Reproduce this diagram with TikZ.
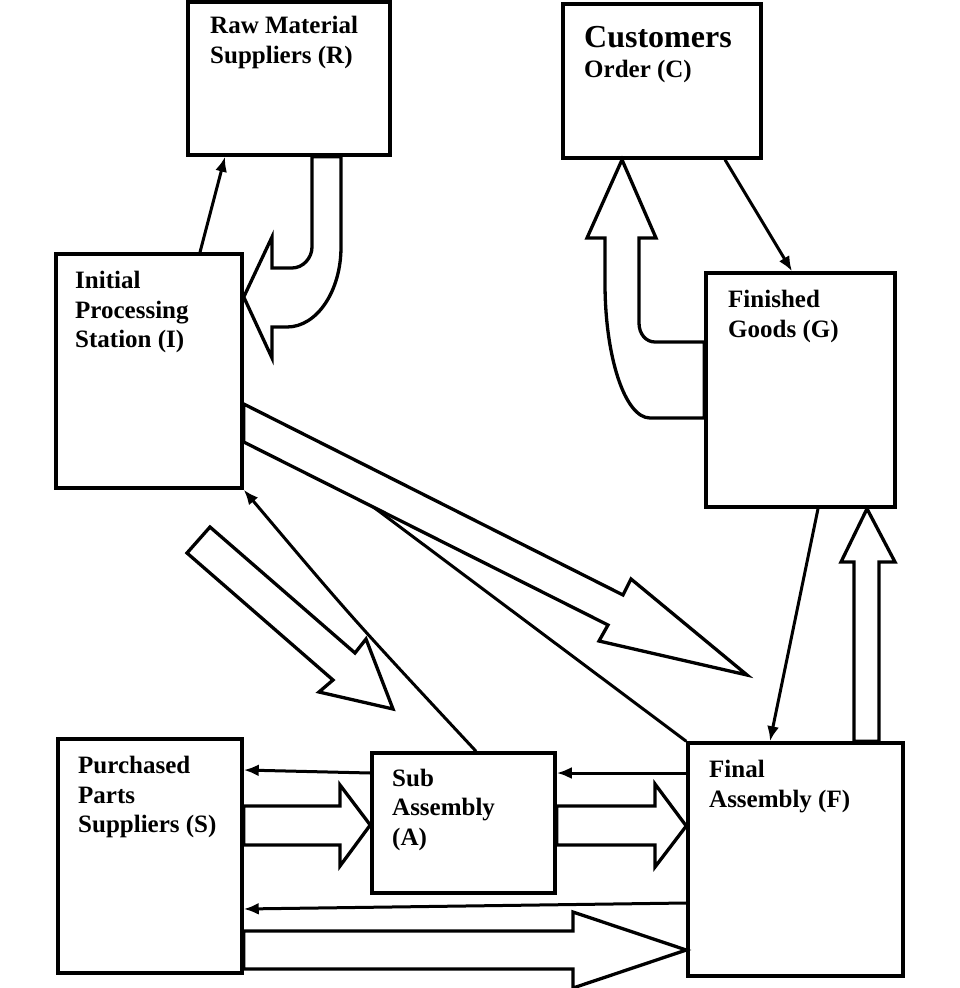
\documentclass[tikz,border=0pt]{standalone}
\usepackage{fontspec}
\setmainfont{Liberation Serif}
\usetikzlibrary{arrows.meta}
\begin{document}
\begin{tikzpicture}[x=1pt,y=-1pt,
  box/.style={draw, line width=3.5pt, fill=white, rectangle, inner sep=0pt},
  lbl/.style={anchor=base west, inner sep=0pt, font=\bfseries\fontsize{25pt}{30pt}\selectfont},
  biglbl/.style={anchor=base west, inner sep=0pt, font=\bfseries\fontsize{32pt}{36pt}\selectfont},
  thinarrow/.style={line width=3pt, -{Latex[length=15pt,width=12pt]}},
  plainline/.style={line width=3pt},
  blk/.style={draw, line width=3.3pt, fill=white, line join=miter}]
\useasboundingbox (0,0) rectangle (960,988);
\fill[white] (0,0) rectangle (960,988);

% boxes
\node[box, minimum width=202pt, minimum height=153pt] (R) at (289,78.5) {};
\node[box, minimum width=198pt, minimum height=154pt] (C) at (662,81) {};
\node[box, minimum width=189pt, minimum height=234pt] (G) at (800.5,390) {};
\node[box, minimum width=186pt, minimum height=234pt] (I) at (149,371) {};
\node[box, minimum width=184pt, minimum height=234pt] (S) at (150,856) {};
\node[box, minimum width=183pt, minimum height=140pt] (A) at (463.5,823) {};
\node[box, minimum width=215pt, minimum height=233pt] (F) at (795.5,859.5) {};

% labels
\node[lbl] (R1) at (210,33) {Raw Material};
\node[lbl] (R2) at (210,63) {Suppliers (R)};
\node[biglbl] (C1) at (584,47) {Customers};
\node[lbl] (C2) at (584,77) {Order (C)};
\node[lbl] (G1) at (728,307) {Finished};
\node[lbl] (G2) at (728,337) {Goods (G)};
\node[lbl] (I1) at (75,288) {Initial};
\node[lbl] (I2) at (75,318) {Processing};
\node[lbl] (I3) at (75,347) {Station (I)};
\node[lbl] (S1) at (78,773) {Purchased};
\node[lbl] (S2) at (78,803) {Parts};
\node[lbl] (S3) at (78,832) {Suppliers (S)};
\node[lbl] (A1) at (392,786) {Sub};
\node[lbl] (A2) at (392,815) {Assembly};
\node[lbl] (A3) at (392,845) {(A)};
\node[lbl] (F1) at (709,777) {Final};
\node[lbl] (F2) at (709,807) {Assembly (F)};

% thin connectors
\draw[thinarrow] (200,0 |- I.north) -- (225,0 |- R.south);
\draw[thinarrow] (725,0 |- C.south) -- (792,0 |- G.north);
\draw[thinarrow] (818,0 |- G.south) -- (770,0 |- F.north);
\draw[thinarrow] (476,0 |- A.north) .. controls (352,618) .. (I.south east);
\draw[plainline] (I.east |- 0,410) -- (F.north west);
\draw[thinarrow] (A.west |- 0,773) -- (S.east |- 0,770);
\draw[thinarrow] (F.west |- 0,773) -- (A.east |- 0,773);
\draw[thinarrow] (F.west |- 0,903) -- (S.east |- 0,909);

% block arrows
\draw[blk] (312,0 |- R.south) -- (312,247) .. controls (312,258) and (303,268) .. (292,268)
  -- (272,268) -- (272,237) -- (I.east |- 0,297) -- (272,358) -- (272,327) -- (287,327)
  .. controls (317,327) and (341,291) .. (341,247) -- (341,0 |- R.south) -- cycle;
\draw[blk] (G.west |- 0,342) -- (655,342) .. controls (646,342) and (639,334) .. (639,323)
  -- (639,238) -- (656,238) -- (622,0 |- C.south) -- (587,238) -- (605,238) -- (605,283)
  .. controls (605,357) and (625,418) .. (650,418) -- (G.west |- 0,418) -- cycle;
\draw[blk] (854,0 |- F.north) -- (854,562) -- (841,562) -- (867,0 |- G.south) -- (895,562)
  -- (879,562) -- (879,0 |- F.north) -- cycle;
\draw[blk] (I.east |- 0,404) -- (623,595) -- (631,579) -- (747,675) -- (599,641) -- (608,625)
  -- (I.east |- 0,442) -- cycle;
\draw[blk] (210,527) -- (355,653) -- (366,639) -- (393,709) -- (319,692) -- (333,680)
  -- (187,553) -- cycle;
\draw[blk] (S.east |- 0,806) -- (340,806) -- (340,785) -- (A.west |- 0,825) -- (340,866)
  -- (340,845) -- (S.east |- 0,845) -- cycle;
\draw[blk] (A.east |- 0,806) -- (655,806) -- (655,784) -- (F.west |- 0,826) -- (655,867)
  -- (655,845) -- (A.east |- 0,845) -- cycle;
\draw[blk] (S.east |- 0,931) -- (573,931) -- (573,912) -- (F.west |- 0,950) -- (573,988)
  -- (573,969) -- (S.east |- 0,969) -- cycle;
\end{tikzpicture}
\end{document}
